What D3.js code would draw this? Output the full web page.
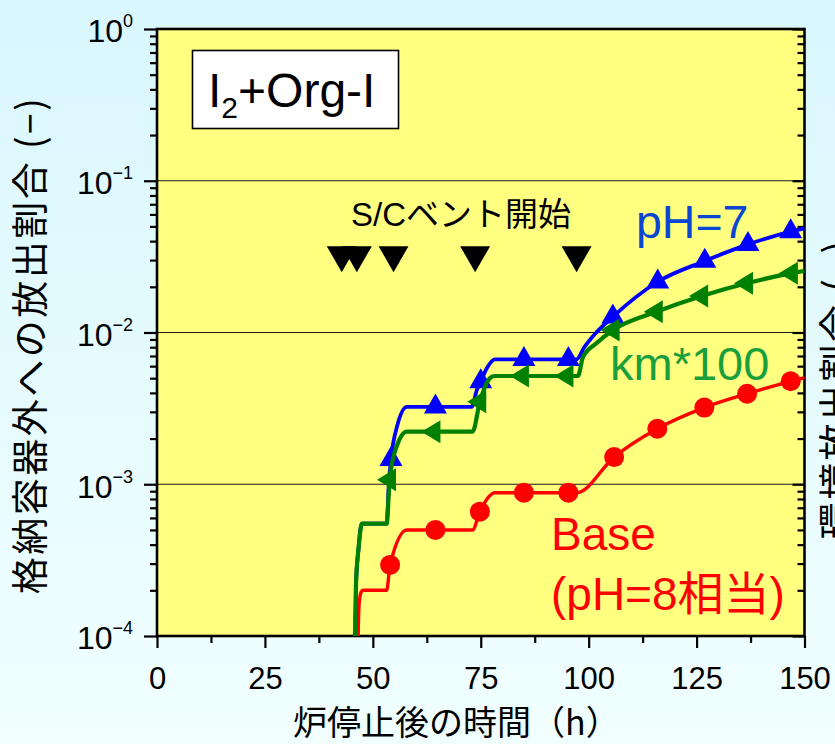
<!DOCTYPE html>
<html>
<head>
<meta charset="utf-8">
<script src="https://cdn.jsdelivr.net/npm/d3@7"></script>
<style>
  html, body { margin: 0; padding: 0; }
  body { width: 835px; height: 744px; overflow: hidden; }
  svg { display: block; }
</style>
</head>
<body>
<svg id="chart" width="835" height="744"></svg>
<script>
// ---- data: release fraction outside containment vs time after shutdown ----
const xTicks = [0, 25, 50, 75, 100, 125, 150];
const xMinorTicks = [12.5, 37.5, 62.5, 87.5, 112.5, 137.5];
const yTicks = [1e-4, 1e-3, 1e-2, 1e-1, 1];
const yExponents = ["−4", "−3", "−2", "−1", "0"];
const yGrid = [1e-3, 1e-2, 1e-1];

// Base case (pH=8 equivalent)
const baseT = [46.6, 46.8, 47.3, 47.8, 53.2, 54.0, 57.9, 73.1, 74.8, 78.3, 97.2, 105.9, 115.9, 126.8, 136.7, 146.8, 150];
const baseV = [1e-4, 1.6e-4, 1.95e-4, 2.0e-4, 2.0e-4, 2.94e-4, 5.0e-4, 5.0e-4, 6.6e-4, 8.8e-4, 8.8e-4, 1.51e-3, 2.32e-3, 3.2e-3, 3.95e-3, 4.77e-3, 5.05e-3];
const baseMarkT = [54.0, 64.5, 74.8, 85.0, 95.3, 105.9, 115.9, 126.8, 136.7, 146.8];
const baseMarkV = [2.94e-4, 5.0e-4, 6.6e-4, 8.8e-4, 8.8e-4, 1.51e-3, 2.32e-3, 3.2e-3, 3.95e-3, 4.77e-3];

// pH=7
const ph7T = [45.9, 46.1, 46.7, 47.4, 53.2, 53.7, 54.2, 55.6, 57.9, 72.9, 74.1, 75.0, 76.4, 78.3, 97.2, 99.0, 101.5, 105.6, 116.0, 126.9, 136.9, 146.8, 150];
const ph7V = [1e-4, 2.2e-4, 3.8e-4, 5.5e-4, 5.5e-4, 1.0e-3, 1.46e-3, 2.4e-3, 3.24e-3, 3.24e-3, 4.18e-3, 4.74e-3, 5.81e-3, 6.66e-3, 6.66e-3, 8.0e-3, 9.8e-3, 1.27e-2, 2.16e-2, 2.96e-2, 3.81e-2, 4.62e-2, 4.85e-2];
const ph7MarkT = [54.2, 64.5, 75.0, 85.0, 95.3, 105.6, 116.0, 126.9, 136.9, 146.8];
const ph7MarkV = [1.46e-3, 3.24e-3, 4.74e-3, 6.66e-3, 6.66e-3, 1.27e-2, 2.16e-2, 2.96e-2, 3.81e-2, 4.62e-2];

// km*100
const kmT = [45.9, 46.1, 46.7, 47.5, 53.2, 53.9, 55.5, 57.9, 73.1, 74.8, 77.1, 78.1, 97.5, 98.7, 101.8, 105.7, 115.7, 126.2, 136.6, 147.0, 150];
const kmV = [1e-4, 2.2e-4, 3.8e-4, 5.5e-4, 5.5e-4, 1.07e-3, 1.77e-3, 2.22e-3, 2.22e-3, 3.5e-3, 5.0e-3, 5.17e-3, 5.17e-3, 6.9e-3, 8.5e-3, 1.04e-2, 1.37e-2, 1.74e-2, 2.11e-2, 2.46e-2, 2.55e-2];
const kmMarkT = [53.9, 64.2, 74.8, 84.7, 95.0, 105.7, 115.7, 126.2, 136.6, 147.0];
const kmMarkV = [1.07e-3, 2.22e-3, 3.5e-3, 5.17e-3, 5.17e-3, 1.04e-2, 1.37e-2, 1.74e-2, 2.11e-2, 2.46e-2];

// S/C vent start times
const ventT = [42.8, 46.3, 54.8, 73.7, 97.2];
const ventV = [3.25e-2, 3.25e-2, 3.25e-2, 3.25e-2, 3.25e-2];

// ---- drawing ----
const W = 835, H = 744;
const plot = { left: 157, right: 804.5, top: 29, bottom: 636 };
const LATIN = "'Liberation Sans', Arial, 'Noto Sans CJK JP', sans-serif";
const JP = "'Noto Sans CJK JP', 'Noto Sans', sans-serif";

const svg = d3.select("#chart");

const defs = svg.append("defs");
const grad = defs.append("linearGradient").attr("id", "bg").attr("x1", 0).attr("y1", 0).attr("x2", 0).attr("y2", 1);
grad.append("stop").attr("offset", "0%").attr("stop-color", "#d9f7fe");
grad.append("stop").attr("offset", "100%").attr("stop-color", "#f1fffe");
svg.append("rect").attr("width", W).attr("height", H).attr("fill", "url(#bg)");

const x = d3.scaleLinear().domain([0, 150]).range([plot.left, plot.right]);
const y = d3.scaleLog().domain([1e-4, 1]).range([plot.bottom, plot.top]);

// plot area
svg.append("rect")
  .attr("x", plot.left).attr("y", plot.top)
  .attr("width", plot.right - plot.left).attr("height", plot.bottom - plot.top)
  .attr("fill", "#ffff80");

// horizontal grid lines at each decade
svg.append("g").selectAll("line").data(yGrid).join("line")
  .attr("x1", plot.left).attr("x2", plot.right)
  .attr("y1", d => y(d)).attr("y2", d => y(d))
  .attr("stroke", "#1a1a1a").attr("stroke-width", 1.1);

// minor log ticks (2..9 of each decade)
const yMinor = [];
for (let e = -4; e < 0; e++) for (let m = 2; m <= 9; m++) yMinor.push(m * Math.pow(10, e));

function styleAxis(g) {
  g.select(".domain").remove();
  g.selectAll(".tick line").attr("stroke", "#000").attr("stroke-width", 2.2);
}

// left axis: outward ticks
svg.append("g").attr("transform", `translate(${plot.left},0)`)
  .call(d3.axisLeft(y).tickValues(yMinor).tickSize(7).tickFormat(""))
  .call(styleAxis);
const yAxisG = svg.append("g").attr("transform", `translate(${plot.left},0)`)
  .call(d3.axisLeft(y).tickValues(yTicks).tickSize(13).tickPadding(11).tickFormat(""))
  .call(styleAxis);
yAxisG.selectAll(".tick text").each(function(d, i) {
  const t = d3.select(this)
    .attr("fill", "#000").attr("font-family", LATIN).attr("font-size", 32)
    .attr("dy", "0.40em").attr("text-anchor", "end");
  t.append("tspan").text("10");
  t.append("tspan").attr("font-size", 18).attr("dy", -15).text(yExponents[i]);
});

// right axis: inward ticks
svg.append("g").attr("transform", `translate(${plot.right},0)`)
  .call(d3.axisLeft(y).tickValues(yMinor).tickSize(7).tickFormat(""))
  .call(styleAxis);
svg.append("g").attr("transform", `translate(${plot.right},0)`)
  .call(d3.axisLeft(y).tickValues(yTicks).tickSize(12).tickFormat(""))
  .call(styleAxis);

// bottom axis
svg.append("g").attr("transform", `translate(0,${plot.bottom})`)
  .call(d3.axisBottom(x).tickValues(xMinorTicks).tickSize(7).tickFormat(""))
  .call(styleAxis);
svg.append("g").attr("transform", `translate(0,${plot.bottom})`)
  .call(d3.axisBottom(x).tickValues(xTicks).tickSize(12).tickPadding(19).tickFormat(d3.format("d")))
  .call(styleAxis)
  .call(g => g.selectAll(".tick text").attr("fill", "#000").attr("font-family", LATIN).attr("font-size", 31));

// plot frame
svg.append("rect")
  .attr("x", plot.left).attr("y", plot.top)
  .attr("width", plot.right - plot.left).attr("height", plot.bottom - plot.top)
  .attr("fill", "none").attr("stroke", "#000").attr("stroke-width", 2.6);

// marker shapes, centred on their centroid
function triPath(dir, w, h) {
  if (dir === "up") return `M0,${-2 * h / 3}L${w / 2},${h / 3}L${-w / 2},${h / 3}Z`;
  if (dir === "down") return `M0,${2 * h / 3}L${w / 2},${-h / 3}L${-w / 2},${-h / 3}Z`;
  return `M${-2 * h / 3},0L${h / 3},${-w / 2}L${h / 3},${w / 2}Z`;
}

const line = d3.line().x(d => x(d[0])).y(d => y(d[1])).curve(d3.curveMonotoneX);

const series = [
  { t: baseT, v: baseV, mt: baseMarkT, mv: baseMarkV, color: "#ff0000", width: 3.4, marker: "circle" },
  { t: ph7T, v: ph7V, mt: ph7MarkT, mv: ph7MarkV, color: "#0000ff", width: 3.8, marker: "up" },
  { t: kmT, v: kmV, mt: kmMarkT, mv: kmMarkV, color: "#008000", width: 4.2, marker: "left" }
];

series.forEach(s => {
  const g = svg.append("g");
  g.append("path")
    .attr("d", line(d3.zip(s.t, s.v)))
    .attr("fill", "none").attr("stroke", s.color).attr("stroke-width", s.width)
    .attr("stroke-linejoin", "round");
  const pts = d3.zip(s.mt, s.mv);
  if (s.marker === "circle") {
    g.selectAll("circle").data(pts).join("circle")
      .attr("cx", d => x(d[0])).attr("cy", d => y(d[1])).attr("r", 10)
      .attr("fill", s.color);
  } else if (s.marker === "up") {
    g.selectAll("path.m").data(pts).join("path").attr("class", "m")
      .attr("transform", d => `translate(${x(d[0])},${y(d[1])})`)
      .attr("d", triPath("up", 23, 20)).attr("fill", s.color);
  } else {
    g.selectAll("path.m").data(pts).join("path").attr("class", "m")
      .attr("transform", d => `translate(${x(d[0])},${y(d[1])})`)
      .attr("d", triPath("left", 23, 19)).attr("fill", s.color);
  }
});

// S/C vent start markers
svg.append("g").selectAll("path").data(d3.zip(ventT, ventV)).join("path")
  .attr("transform", d => `translate(${x(d[0])},${y(d[1])})`)
  .attr("d", triPath("down", 30, 26)).attr("fill", "#000");

// annotations
function label(txt, px, py, size, color, family) {
  return svg.append("text").attr("x", px).attr("y", py)
    .attr("font-family", family || LATIN).attr("font-size", size)
    .attr("fill", color).text(txt);
}
label("S/Cベント開始", 351, 226, 33, "#000");
label("pH=7", 636, 238, 46.5, "#0a46d2");
label("km*100", 610, 380, 47, "#1a9f3c");
label("Base", 551, 550, 46, "#ff0000");
label("(pH=8相当)", 551, 610, 46, "#ff0000");

// species box
svg.append("rect").attr("x", 192.5).attr("y", 50.5).attr("width", 206).attr("height", 78)
  .attr("fill", "#fff").attr("stroke", "#000").attr("stroke-width", 1.6);
const sp = svg.append("text").attr("x", 208).attr("y", 106.5)
  .attr("font-family", LATIN).attr("font-size", 48).attr("fill", "#000");
sp.append("tspan").text("I");
sp.append("tspan").attr("font-size", 30).attr("dy", 11.5).text("2");
sp.append("tspan").attr("dy", -11.5).text("+Org-I");

// axis titles
svg.append("text")
  .attr("transform", "translate(28,345) rotate(-90)")
  .attr("text-anchor", "middle").attr("dominant-baseline", "central")
  .attr("font-family", JP).attr("font-size", 37).attr("letter-spacing", 2.5)
  .attr("fill", "#000").text("格納容器外への放出割合 (−)");
svg.append("text")
  .attr("transform", "translate(835,389) rotate(-90)")
  .attr("text-anchor", "middle").attr("dominant-baseline", "central")
  .attr("font-family", JP).attr("font-size", 37).attr("letter-spacing", 2.5)
  .attr("fill", "#000").text("環境放出割合 (−)");
svg.append("text")
  .attr("x", 293).attr("y", 735)
  .attr("font-family", JP).attr("font-size", 34)
  .attr("fill", "#000").text("炉停止後の時間（h）");
</script>
</body>
</html>
